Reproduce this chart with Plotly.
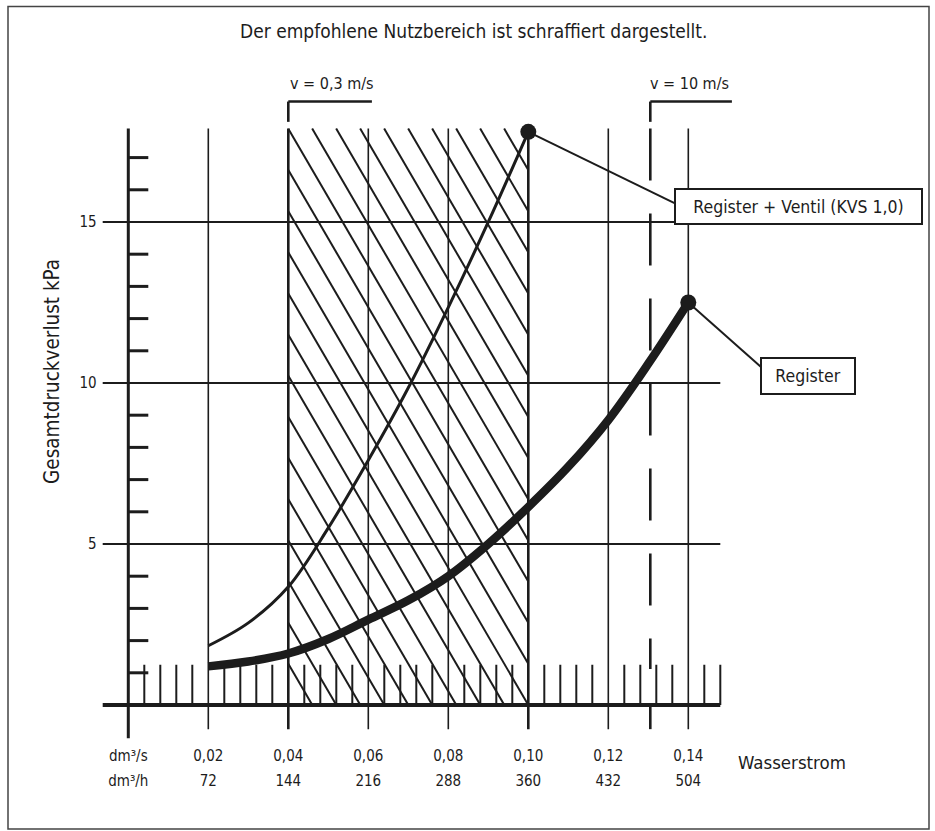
import numpy as np
import plotly.graph_objects as go

# ---------------- data ----------------
reg_flow = [0.02, 0.03, 0.04, 0.05, 0.06, 0.07, 0.08, 0.09, 0.10, 0.11, 0.12, 0.13, 0.14]
reg_kpa = [1.2, 1.35, 1.6, 2.05, 2.65, 3.25, 4.0, 5.0, 6.15, 7.4, 8.85, 10.6, 12.5]

rv_flow = [0.02, 0.03, 0.04, 0.05, 0.06, 0.07, 0.08, 0.09, 0.10]
rv_kpa = [1.84, 2.55, 3.67, 5.5, 7.6, 9.85, 12.35, 15.0, 17.8]

x_tick_vals = [0.0, 0.02, 0.04, 0.06, 0.08, 0.10, 0.12, 0.14]
x_tick_dm3s = ["dm³/s", "0,02", "0,04", "0,06", "0,08", "0,10", "0,12", "0,14"]
x_tick_dm3h = ["dm³/h", "72", "144", "216", "288", "360", "432", "504"]
grid_flow = [0.02, 0.04, 0.06, 0.08, 0.10, 0.12, 0.14]
y_tick_vals = [5, 10, 15]
y_tick_text = ["5", "10", "15"]
y_minor = [1, 2, 3, 4, 6, 7, 8, 9, 11, 12, 13, 14, 16, 17]

band_lo = 0.04      # v = 0,3 m/s
band_hi = 0.10
v10_flow = 0.1305   # v = 10 m/s

title_text = "Der empfohlene Nutzbereich ist schraffiert dargestellt."
y_title = "Gesamtdruckverlust kPa"
x_title = "Wasserstrom"
lab_rv = "Register + Ventil (KVS 1,0)"
lab_reg = "Register"

# ---------------- layout geometry ----------------
W, H = 935, 831
X_RANGE = [-0.032075, 0.201675]
Y_RANGE = [-3.913, 21.894]
Y_TOP = 17.9
X_LEFT = -0.0064
X_RIGHT = 0.148
FONT = "Liberation Sans Narrow, DejaVu Sans Condensed, Arial Narrow, sans-serif"
INK = "#1c1c1c"

# callout boxes (centre in data units) and where the leader meets the box
box_rv = dict(x=0.16754, y=15.49, w=241, h=29)
box_reg = dict(x=0.16985, y=10.23, w=88, h=30)
lead_rv_end = (0.13693, 15.56)
lead_reg_end = (0.15853, 10.46)

fig = go.Figure()
shapes = []

def seg(x0, y0, x1, y1, w=2, dash=None, layer="below"):
    d = dict(type="line", xref="x", yref="y", x0=x0, y0=y0, x1=x1, y1=y1,
             line=dict(color=INK, width=w), layer=layer)
    if dash:
        d["line"]["dash"] = dash
    shapes.append(d)

# horizontal grid lines
for yv in y_tick_vals:
    seg(X_LEFT, yv, X_RIGHT, yv, 2)
# x axis line
seg(X_LEFT, 0, X_RIGHT, 0, 4)
# y axis line
seg(0, -1.03, 0, Y_TOP, 3)
# vertical grid lines
for xv in grid_flow:
    seg(xv, -0.75, xv, Y_TOP, 2.6 if xv in (band_lo, band_hi) else 1.6)
# minor y ticks
for yv in y_minor:
    seg(0, yv, 0.005, yv, 3)
# short hatch ticks along the x axis
for k in range(1, 38):
    if k % 5:
        xv = 0.004 * k
        seg(xv, 0, xv, 1.25, 2)
# v = 10 m/s dashed line
seg(v10_flow, Y_TOP, v10_flow, 1.12, 2.6, dash="52px,33px")
seg(v10_flow, 0, v10_flow, -0.75, 2.6)
# brackets
for xa, xb in ((band_lo, 0.0609), (v10_flow, 0.1509)):
    seg(xa, 18.74, xb, 18.74, 2.6)
    seg(xa, 18.74, xa, 18.11, 2.6)

# frame
shapes.append(dict(type="rect", xref="paper", yref="paper",
                   x0=8 / W, x1=929 / W, y0=2 / H, y1=1 - 6.5 / H,
                   line=dict(color="#444444", width=1.5), layer="below"))

# diagonal hatching of the recommended band
S = 213.0        # slope of hatch lines (kPa per dm3/s)
step = 0.006
hx, hy = [], []
for k in range(-10, 20):
    c = band_hi + k * step
    ya = max(0.0, (c - band_hi) * S)
    yb = min(Y_TOP, (c - band_lo) * S)
    if yb - ya > 0.05:
        hx += [c - ya / S, c - yb / S, None]
        hy += [ya, yb, None]
fig.add_trace(go.Scatter(x=hx, y=hy, mode="lines",
                         line=dict(color=INK, width=2), hoverinfo="skip"))

# curves
fig.add_trace(go.Scatter(x=rv_flow, y=rv_kpa, mode="lines",
                         line=dict(color=INK, width=3, shape="spline"), name=lab_rv))
fig.add_trace(go.Scatter(x=reg_flow, y=reg_kpa, mode="lines",
                         line=dict(color=INK, width=8.5, shape="spline"), name=lab_reg))
# leader lines
fig.add_trace(go.Scatter(x=[rv_flow[-1], lead_rv_end[0], None, reg_flow[-1], lead_reg_end[0]],
                         y=[rv_kpa[-1], lead_rv_end[1], None, reg_kpa[-1], lead_reg_end[1]],
                         mode="lines", line=dict(color=INK, width=2), hoverinfo="skip"))
fig.add_trace(go.Scatter(x=[rv_flow[-1], reg_flow[-1]], y=[rv_kpa[-1], reg_kpa[-1]],
                         mode="markers", marker=dict(color=INK, size=16), hoverinfo="skip"))

ann = []
def txt(text, x, y, size, data=False, angle=0):
    ann.append(dict(text=text, xref="x" if data else "paper",
                    yref="y" if data else "paper", x=x, y=y, xanchor="center",
                    yanchor="middle", showarrow=False, textangle=angle,
                    font=dict(size=size)))

txt(title_text, 474 / W, 1 - 31 / H, 19)
txt(y_title, 52 / W, 1 - 372 / H, 20.5, angle=-90)
txt(x_title, 792 / W, 1 - 762 / H, 18.5)
txt("v = 0,3 m/s", 0.0509, 19.29, 16, data=True)
txt("v = 10 m/s", 0.1404, 19.29, 16, data=True)
for lab, b in ((lab_rv, box_rv), (lab_reg, box_reg)):
    ann.append(dict(text=lab, x=b["x"], y=b["y"], xref="x", yref="y",
                    xanchor="center", yanchor="middle", showarrow=False,
                    bgcolor="white", bordercolor=INK, borderwidth=2, borderpad=2,
                    width=b["w"], height=b["h"], align="center",
                    font=dict(size=17.5)))

tick_font = dict(size=15)
fig.update_layout(
    width=W, height=H, margin=dict(l=0, r=0, t=0, b=0, pad=0),
    paper_bgcolor="white", plot_bgcolor="white", showlegend=False,
    font=dict(family=FONT, color=INK, size=16),
    shapes=shapes, annotations=ann,
    xaxis=dict(range=X_RANGE, showgrid=False, zeroline=False, showline=False,
               tickvals=x_tick_vals, ticktext=x_tick_dm3s,
               ticks="", anchor="free", position=1 - 705 / H,
               ticklabelstandoff=40, tickfont=tick_font),
    xaxis2=dict(range=X_RANGE, showgrid=False, zeroline=False, showline=False,
                overlaying="x", matches="x",
                tickvals=x_tick_vals, ticktext=x_tick_dm3h,
                ticks="", anchor="free", position=1 - 705 / H, side="bottom",
                ticklabelstandoff=65, tickfont=tick_font),
    yaxis=dict(range=Y_RANGE, showgrid=False, zeroline=False, showline=False,
               tickvals=y_tick_vals, ticktext=y_tick_text, ticks="",
               anchor="free", position=102.7 / W, ticklabelstandoff=6,
               tickfont=tick_font),
)
# invisible trace so the second x axis is drawn
fig.add_trace(go.Scatter(x=[0.0], y=[0.0], xaxis="x2", mode="markers",
                         marker=dict(opacity=0), hoverinfo="skip"))

fig.write_html("out.html", config={"displayModeBar": False},
               post_script="document.body.style.margin='0';")
